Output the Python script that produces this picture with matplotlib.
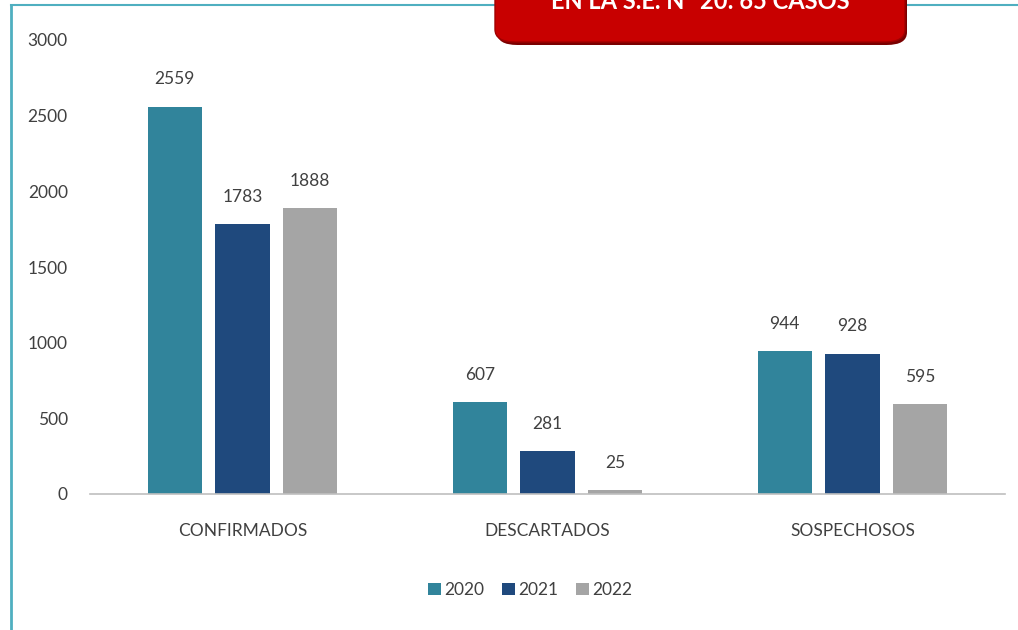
import matplotlib.pyplot as plt
import numpy as np
from matplotlib.patches import FancyBboxPatch
from matplotlib.lines import Line2D

# Data
categories = ["CONFIRMADOS", "DESCARTADOS", "SOSPECHOSOS"]
years = ["2020", "2021", "2022"]
values_2020 = [2559, 607, 944]
values_2021 = [1783, 281, 928]
values_2022 = [1888, 25, 595]
yticks = [0, 500, 1000, 1500, 2000, 2500, 3000]
banner_text = "EN LA S.E. N° 20: 65 CASOS"

colors = ["#31849B", "#1F497D", "#A5A5A5"]
text_color = "#404040"

plt.rcParams["font.family"] = ["Lato", "DejaVu Sans"]

fig = plt.figure(figsize=(10.18, 6.3), dpi=100)
ax = fig.add_axes([90 / 1018, 1 - 494 / 630, 915 / 1018, 454 / 630])

x = np.arange(len(categories))
width = 0.178
step = 0.222

series = [values_2020, values_2021, values_2022]
for i, vals in enumerate(series):
    bars = ax.bar(x + (i - 1) * step, vals, width=width, color=colors[i], label=years[i])
    for b, v in zip(bars, vals):
        ax.annotate(str(v), (b.get_x() + b.get_width() / 2, v),
                    xytext=(0, 14), textcoords="offset points",
                    ha="center", va="bottom", fontsize=12.5, color=text_color)

ax.set_xlim(-0.5, 2.5)
ax.set_ylim(0, 3000)
ax.set_yticks(yticks)
ax.set_xticks(x)
ax.set_xticklabels(categories)
ax.tick_params(axis="both", length=0, labelsize=12.5, labelcolor=text_color)
ax.tick_params(axis="x", pad=21)
ax.tick_params(axis="y", pad=16)

for side in ["top", "right", "left"]:
    ax.spines[side].set_visible(False)
ax.spines["bottom"].set_color("#BFBFBF")
ax.spines["bottom"].set_linewidth(1.2)

leg = fig.legend(loc="center", bbox_to_anchor=(530 / 1018, 1 - 590 / 630), ncol=3,
                 frameon=False, handlelength=0.75, handleheight=0.75,
                 handletextpad=0.2, columnspacing=1.0, fontsize=12.5)
for t in leg.get_texts():
    t.set_color(text_color)

# outer frame (left and top edges only are visible)
fig.add_artist(Line2D([11 / 1018, 11 / 1018], [0, 1 - 5 / 630],
                      transform=fig.transFigure, color="#4FAFC0", lw=2))
fig.add_artist(Line2D([11 / 1018, 1], [1 - 5 / 630, 1 - 5 / 630],
                      transform=fig.transFigure, color="#4FAFC0", lw=1.5))

# red banner at the top, clipped by the image edge
shadow = FancyBboxPatch((497 / 1018, 1 - 45 / 630), 410 / 1018, 80 / 630,
                        boxstyle="round,pad=0,rounding_size=0.02",
                        transform=fig.transFigure, facecolor="#7A0000",
                        edgecolor="none", zorder=4)
banner = FancyBboxPatch((495 / 1018, 1 - 42 / 630), 410 / 1018, 80 / 630,
                        boxstyle="round,pad=0,rounding_size=0.02",
                        transform=fig.transFigure, facecolor="#C80000",
                        edgecolor="#A00000", lw=1, zorder=5)
fig.add_artist(shadow)
fig.add_artist(banner)
fig.text(700 / 1018, 1 - 9 / 630, banner_text, ha="center", va="baseline",
         color="white", fontsize=17, fontweight="bold", zorder=6)

fig.savefig("out.png", dpi=100)
